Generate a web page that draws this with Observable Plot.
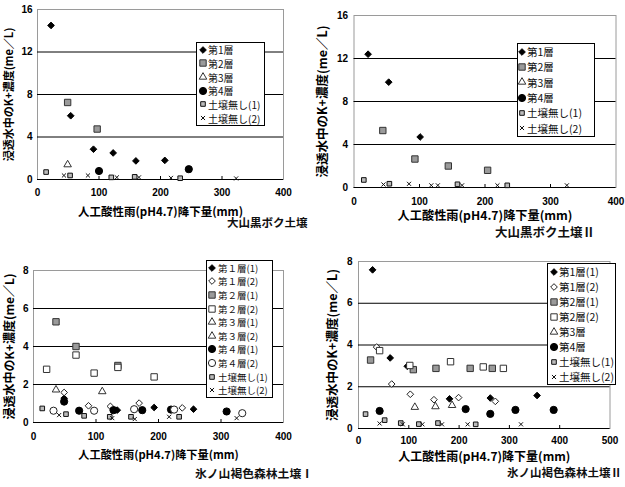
<!DOCTYPE html>
<html><head><meta charset="utf-8">
<script src="https://cdn.jsdelivr.net/npm/d3@7"></script>
<script src="https://cdn.jsdelivr.net/npm/@observablehq/plot@0.6"></script>
<style>
body{margin:0;background:#fff;}
#root{position:relative;width:625px;height:487px;overflow:hidden;background:#fff;}
.panel{position:absolute;}
.panel svg{overflow:visible;}
.panel [aria-label="x-axis tick label"], .panel [aria-label="y-axis tick label"]{font-family:"Liberation Sans",Arial,sans-serif;font-weight:bold;font-size:10px;}
.panel [aria-label="x-axis label"], .panel [aria-label="y-axis label"]{font-family:"Noto Sans CJK JP",sans-serif;font-weight:bold;}
.sub{position:absolute;font-family:"Noto Sans CJK JP",sans-serif;font-weight:bold;white-space:nowrap;line-height:1;color:#111;}
.legend{position:absolute;border:1px solid #000;background:#fff;box-sizing:border-box;font-family:"Noto Sans CJK JP",sans-serif;color:#111;}
.legend .row{position:relative;white-space:nowrap;display:flex;align-items:center;}
.legend svg{position:absolute;overflow:visible;}
</style>
</head><body>
<div id="root"></div>
<script>
// ---------- shared labels ----------
const xTitle = "人工酸性雨(pH4.7)降下量(mm)";
const yTitle = "浸透水中のK+濃度(me／L)";

// ---------- panel 1 : 大山黒ボク土壌 ----------
const p1Ticks = {x: [0, 100, 200, 300, 400], y: [0, 4, 8, 12, 16]};
const p1Names = ["第1層", "第2層", "第3層", "第4層", "土壌無し(1)", "土壌無し(2)"];
const p1Layer1 = [[22, 14.5], [54, 6.0], [91, 2.85], [123, 2.5], [160, 1.75], [207, 1.8]];
const p1Layer2 = [[49, 7.25], [97, 4.75]];
const p1Layer3 = [[49, 1.4]];
const p1Layer4 = [[100, 0.8], [246, 0.97]];
const p1None1 = [[14, 0.7], [53, 0.38], [120, 0.2], [158, 0.25], [232, 0.12]];
const p1None2 = [[43, 0.38], [82, 0.38], [129, 0.2], [165, 0.2], [217, 0.15], [323, 0.1]];

// ---------- panel 2 : 大山黒ボク土壌Ⅱ ----------
const p2Ticks = {x: [0, 100, 200, 300, 400], y: [0, 4, 8, 12, 16]};
const p2Names = ["第1層", "第2層", "第3層", "第4層", "土壌無し(1)", "土壌無し(2)"];
const p2Layer1 = [[21.5, 12.4], [53, 9.8], [101, 4.7]];
const p2Layer2 = [[44, 5.3], [93, 2.65], [144, 2.0], [204, 1.6]];
const p2Layer3 = [];
const p2Layer4 = [];
const p2None1 = [[15, 0.7], [54, 0.35], [158, 0.3], [234, 0.2]];
const p2None2 = [[45, 0.28], [84, 0.34], [118, 0.2], [128, 0.2], [165, 0.2], [219, 0.2], [325, 0.2]];

// ---------- panel 3 : 氷ノ山褐色森林土壌Ⅰ ----------
const p3Ticks = {x: [0, 100, 200, 300, 400], y: [0, 2, 4, 6, 8]};
const p3Names = ["第１層(1)", "第１層(2)", "第２層(1)", "第２層(2)", "第３層(1)", "第３層(2)", "第４層(1)", "第４層(2)", "土壌無し(1)", "土壌無し(2)"];
const p3Layer1a = [[49, 1.27], [134, 0.65], [193, 0.79], [256, 0.7]];
const p3Layer1b = [[49, 1.58], [88, 0.88], [123, 0.85], [169, 1.02], [238, 0.77]];
const p3Layer2a = [[36, 5.3], [68, 4.0], [135, 3.0]];
const p3Layer2b = [[21, 2.8], [68, 3.55], [97, 2.6], [135, 2.9], [193, 2.4]];
const p3Layer3a = [[36, 1.72]];
const p3Layer3b = [[110, 1.63]];
const p3Layer4a = [[49, 1.1], [73, 0.62], [128, 0.65], [174, 0.65], [220, 0.68], [309, 0.58]];
const p3Layer4b = [[32, 0.62], [97, 0.62], [161, 0.7], [225, 0.68], [334, 0.49]];
const p3None1 = [[14, 0.74], [52, 0.44], [81, 0.35], [122, 0.3], [156, 0.3], [233, 0.3]];
const p3None2 = [[41, 0.39], [126, 0.23], [162, 0.18], [217, 0.3], [325, 0.23]];

// ---------- panel 4 : 氷ノ山褐色森林土壌Ⅱ ----------
const p4Ticks = {x: [0, 100, 200, 300, 400, 500], y: [0, 2, 4, 6, 8]};
const p4Names = ["第1層(1)", "第1層(2)", "第2層(1)", "第2層(2)", "第3層", "第4層", "土壌無し(1)", "土壌無し(2)"];
const p4Layer1a = [[28, 7.6], [63, 3.38], [97, 2.98], [181, 1.42], [262, 1.46], [355, 1.58]];
const p4Layer1b = [[36, 3.9], [66, 2.13], [103, 1.64], [150, 1.38], [199, 1.48], [272, 1.3]];
const p4Layer2a = [[24, 3.28], [109, 2.82], [154, 2.88], [222, 2.88], [266, 2.88]];
const p4Layer2b = [[42, 3.73], [102, 3.02], [183, 3.2], [248, 2.95], [288, 2.88]];
const p4Layer3 = [[112, 1.02], [153, 1.05], [186, 1.11]];
const p4Layer4 = [[42, 0.84], [213, 0.93], [262, 0.7], [312, 0.89], [388, 0.89]];
const p4None1 = [[14, 0.69], [52, 0.4], [84, 0.26], [120, 0.21], [158, 0.26], [233, 0.2]];
const p4None2 = [[42, 0.24], [88, 0.2], [127, 0.2], [166, 0.2], [217, 0.2], [323, 0.2]];

const subtitles = ["大山黒ボク土壌", "大山黒ボク土壌Ⅱ", "氷ノ山褐色森林土壌Ⅰ", "氷ノ山褐色森林土壌Ⅱ"];

// ---------- marker styles ----------
const STY = {
  fDiamond: {symbol: "diamond2", fill: "#000", stroke: "#000", r: 3.0},
  oDiamond: {symbol: "diamond2", fill: "#fff", stroke: "#222", r: 3.0},
  gSquare: {symbol: "square", fill: "#9a9a9a", stroke: "#333", r: 3.6},
  oSquare: {symbol: "square", fill: "#fff", stroke: "#333", r: 3.6},
  oTriangle: {symbol: "triangle2", fill: "#fff", stroke: "#333", r: 3.6},
  fCircle: {symbol: "circle", fill: "#000", stroke: "#000", r: 3.6},
  oCircle: {symbol: "circle", fill: "#fff", stroke: "#222", r: 3.6},
  dSquare: {symbol: "square", fill: "#bbb", stroke: "#111", r: 2.6},
  times: {symbol: "times", fill: "none", stroke: "#111", r: 2.0}
};

const panels = [
  {box: [0, 0, 310, 240], m: [9, 27, 61, 37], xMax: 400, yMax: 16, ticks: p1Ticks,
   series: [[p1Names[0], p1Layer1, "fDiamond"], [p1Names[1], p1Layer2, "gSquare"], [p1Names[2], p1Layer3, "oTriangle"],
            [p1Names[3], p1Layer4, "fCircle"], [p1Names[4], p1None1, "dSquare"], [p1Names[5], p1None2, "times"]],
   yLab: {off: 32, fs: 11}, xLab: {off: 36, fs: 11.5}, tickPad: [5, 9],
   legend: {l: 196, t: 42, w: 69, h: 84, fs: 10, sx: 6, tx: 11},
   sub: {l: 227, t: 217, fs: 11.5}},
  {box: [310, 0, 315, 245], m: [15, 9.5, 58, 43.5], xMax: 400, yMax: 16, ticks: p2Ticks,
   series: [[p2Names[0], p2Layer1, "fDiamond"], [p2Names[1], p2Layer2, "gSquare"], [p2Names[2], p2Layer3, "oTriangle"],
            [p2Names[3], p2Layer4, "fCircle"], [p2Names[4], p2None1, "dSquare"], [p2Names[5], p2None2, "times"]],
   yLab: {off: 36, fs: 12.5}, xLab: {off: 32, fs: 12.2}, tickPad: [6, 10],
   legend: {l: 517, t: 43, w: 78, h: 94, fs: 10.5, sx: 4, tx: 9},
   sub: {l: 495, t: 226, fs: 12.5}},
  {box: [0, 245, 310, 242], m: [25, 27, 65, 33], xMax: 400, yMax: 8, ticks: p3Ticks,
   series: [[p3Names[0], p3Layer1a, "fDiamond"], [p3Names[1], p3Layer1b, "oDiamond"], [p3Names[2], p3Layer2a, "gSquare"],
            [p3Names[3], p3Layer2b, "oSquare"], [p3Names[4], p3Layer3a, "oTriangle"], [p3Names[5], p3Layer3b, "oTriangle"],
            [p3Names[6], p3Layer4a, "fCircle"], [p3Names[7], p3Layer4b, "oCircle"], [p3Names[8], p3None1, "dSquare"],
            [p3Names[9], p3None2, "times"]],
   yLab: {off: 28, fs: 12}, xLab: {off: 36, fs: 11.2}, tickPad: [5, 10],
   legend: {l: 206, t: 260, w: 67, h: 138, fs: 9.5, sx: 5, tx: 11},
   sub: {l: 195, t: 467, fs: 11.8}},
  {box: [310, 245, 315, 242], m: [16, 15.5, 59, 48], xMax: 500, yMax: 8, ticks: p4Ticks,
   series: [[p4Names[0], p4Layer1a, "fDiamond"], [p4Names[1], p4Layer1b, "oDiamond"], [p4Names[2], p4Layer2a, "gSquare"],
            [p4Names[3], p4Layer2b, "oSquare"], [p4Names[4], p4Layer3, "oTriangle"], [p4Names[5], p4Layer4, "fCircle"],
            [p4Names[6], p4None1, "dSquare"], [p4Names[7], p4None2, "times"]],
   yLab: {off: 30.7, fs: 12.5}, xLab: {off: 32.5, fs: 12}, tickPad: [6, 8],
   legend: {l: 547, t: 263, w: 69, h: 122, fs: 10.5, sx: 6, tx: 11},
   sub: {l: 507, t: 467, fs: 11.5}}
];

const root = document.getElementById("root");
const symMap = {diamond2: d3.symbolDiamond2, square: d3.symbolSquare, triangle2: d3.symbolTriangle2, circle: d3.symbolCircle, times: d3.symbolTimes};

panels.forEach((P, i) => {
  const [left, top, width, height] = P.box;
  const [mt, mr, mb, ml] = P.m;
  const yT = P.ticks.y, xT = P.ticks.x;
  const grid = yT.slice(1, -1);
  const inner = xT.slice(1, -1);
  const marks = [
    Plot.frame({stroke: "#9a9a9a"}),
    Plot.ruleY(grid, {stroke: "#000", strokeWidth: 1}),
    Plot.ruleY([0], {stroke: "#000", strokeWidth: 1}),
    Plot.axisY(yT, {tickSize: 0, tickPadding: P.tickPad[0], label: yTitle, labelAnchor: "center", labelOffset: P.yLab.off, labelArrow: "none", fontSize: 10}),
    Plot.axisX(xT, {tickSize: 0, tickPadding: P.tickPad[1], label: xTitle, labelAnchor: "center", labelOffset: P.xLab.off, labelArrow: "none", fontSize: 10}),
    Plot.axisX(inner, {tickSize: -3, tickFormat: () => "", label: null, stroke: "#000"})
  ];
  P.series.forEach(([name, data, st]) => {
    const s = STY[st];
    marks.push(Plot.dot(data, {x: d => d[0], y: d => d[1], symbol: () => s.symbol, fill: s.fill, stroke: s.stroke, r: s.r, strokeWidth: 1}));
  });
  const chart = Plot.plot({
    width, height, marginTop: mt, marginRight: mr, marginBottom: mb, marginLeft: ml,
    x: {domain: [0, P.xMax]},
    y: {domain: [0, P.yMax]},
    symbol: {type: "identity"},
    style: {background: "transparent", color: "#000", fontFamily: "Liberation Sans, Arial, sans-serif"},
    marks
  });
  const wrap = document.createElement("div");
  wrap.className = "panel";
  wrap.style.left = left + "px"; wrap.style.top = top + "px";
  wrap.appendChild(chart);
  root.appendChild(wrap);
  const xl = chart.querySelector('[aria-label="x-axis label"]');
  if (xl) xl.style.fontSize = P.xLab.fs + "px";
  const yl = chart.querySelector('[aria-label="y-axis label"]');
  if (yl) yl.style.fontSize = P.yLab.fs + "px";

  // legend
  const L = P.legend;
  const lg = document.createElement("div");
  lg.className = "legend";
  Object.assign(lg.style, {left: L.l + "px", top: L.t + "px", width: L.w + "px", height: L.h + "px", fontSize: L.fs + "px"});
  const rowH = (L.h - 2) / P.series.length;
  P.series.forEach(([name, data, st]) => {
    const s = STY[st];
    const row = document.createElement("div");
    row.className = "row";
    row.style.height = rowH + "px";
    const svg = d3.create("svg").attr("width", 10).attr("height", 10)
      .style("left", (L.sx - 5) + "px").style("top", (rowH / 2 - 5) + "px");
    svg.append("path")
      .attr("transform", "translate(5,5)")
      .attr("d", d3.symbol(symMap[s.symbol], Math.PI * s.r * s.r)())
      .attr("fill", s.fill).attr("stroke", s.stroke).attr("stroke-width", 1);
    row.appendChild(svg.node());
    const t = document.createElement("span");
    t.textContent = name;
    t.style.marginLeft = L.tx + "px";
    row.appendChild(t);
    lg.appendChild(row);
  });
  root.appendChild(lg);

  // subtitle
  const sb = document.createElement("div");
  sb.className = "sub";
  Object.assign(sb.style, {left: P.sub.l + "px", top: P.sub.t + "px", fontSize: P.sub.fs + "px"});
  sb.textContent = subtitles[i];
  root.appendChild(sb);
});
</script>
</body></html>
